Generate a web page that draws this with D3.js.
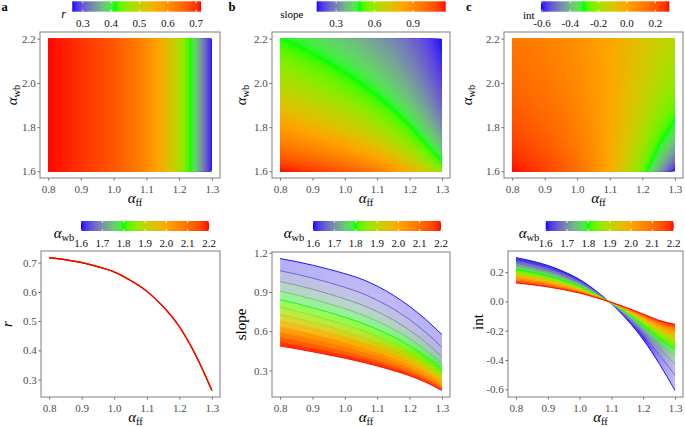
<!DOCTYPE html>
<html><head><meta charset="utf-8">
<script src="https://cdn.jsdelivr.net/npm/d3@7"></script>
<style>body{margin:0;background:#fff}svg{display:block}svg text{font-family:'Liberation Serif','DejaVu Serif',serif}</style>
</head><body>
<script>
// ---------------- data ----------------
const affValues = [0.80,0.85,0.90,0.95,1.00,1.05,1.10,1.15,1.20,1.25,1.30];
const awbValues = [1.60,1.65,1.70,1.75,1.80,1.85,1.90,1.95,2.00,2.05,2.10,2.15,2.20];
const rValues = [0.717,0.710,0.700,0.686,0.668,0.639,0.602,0.550,0.481,0.384,0.263];
// one row per awb value, one column per aff value
const slopeRows = [
[1.155,1.132,1.105,1.074,1.040,1.000,0.945,0.875,0.790,0.690,0.575],
[1.062,1.036,1.006,0.973,0.935,0.893,0.837,0.770,0.689,0.591,0.478],
[0.980,0.952,0.921,0.886,0.847,0.804,0.750,0.686,0.608,0.516,0.407],
[0.907,0.878,0.846,0.811,0.772,0.729,0.677,0.616,0.544,0.456,0.353],
[0.841,0.812,0.780,0.745,0.707,0.665,0.615,0.558,0.490,0.408,0.311],
[0.782,0.753,0.721,0.687,0.651,0.610,0.562,0.509,0.445,0.368,0.277],
[0.728,0.700,0.669,0.636,0.601,0.562,0.517,0.467,0.407,0.335,0.249],
[0.679,0.652,0.622,0.590,0.557,0.519,0.477,0.430,0.374,0.306,0.225],
[0.634,0.608,0.579,0.549,0.517,0.482,0.442,0.397,0.345,0.282,0.205],
[0.593,0.568,0.541,0.512,0.482,0.448,0.411,0.369,0.320,0.260,0.188],
[0.555,0.531,0.505,0.478,0.450,0.418,0.383,0.343,0.298,0.242,0.173],
[0.520,0.497,0.473,0.447,0.420,0.391,0.358,0.321,0.278,0.225,0.160],
[0.487,0.466,0.443,0.419,0.394,0.366,0.335,0.300,0.260,0.210,0.148]];
const intRows = [
[0.299,0.276,0.246,0.204,0.150,0.075,-0.016,-0.127,-0.261,-0.424,-0.607],
[0.275,0.253,0.224,0.185,0.135,0.067,-0.014,-0.112,-0.227,-0.363,-0.504],
[0.254,0.232,0.205,0.168,0.122,0.060,-0.013,-0.099,-0.201,-0.317,-0.429],
[0.235,0.214,0.189,0.154,0.111,0.055,-0.012,-0.089,-0.180,-0.280,-0.372],
[0.218,0.198,0.174,0.142,0.102,0.050,-0.010,-0.081,-0.162,-0.251,-0.328],
[0.203,0.184,0.161,0.131,0.094,0.046,-0.010,-0.074,-0.147,-0.226,-0.292],
[0.189,0.171,0.149,0.121,0.087,0.042,-0.009,-0.068,-0.134,-0.206,-0.263],
[0.176,0.159,0.139,0.112,0.080,0.039,-0.008,-0.062,-0.123,-0.188,-0.237],
[0.164,0.148,0.129,0.104,0.074,0.036,-0.008,-0.058,-0.114,-0.173,-0.216],
[0.154,0.139,0.121,0.097,0.069,0.034,-0.007,-0.054,-0.106,-0.160,-0.198],
[0.144,0.130,0.113,0.091,0.065,0.031,-0.007,-0.050,-0.098,-0.149,-0.183],
[0.135,0.121,0.105,0.085,0.060,0.029,-0.006,-0.047,-0.092,-0.138,-0.169],
[0.126,0.114,0.099,0.080,0.057,0.027,-0.006,-0.044,-0.086,-0.129,-0.156]];
const affTicks = [0.8,0.9,1.0,1.1,1.2,1.3];
const awbTicks = [1.6,1.8,2.0,2.2];
const rTicks = [0.3,0.4,0.5,0.6,0.7];
const slopeTicks = [0.3,0.6,0.9,1.2];
const slopeLegendTicks = [0.3,0.6,0.9];
const intTicks = [-0.6,-0.4,-0.2,0.0,0.2];
const awbLegendTicks = [1.6,1.7,1.8,1.9,2.0,2.1,2.2];

// ---------------- helpers ----------------
const FONT = "'Liberation Serif','DejaVu Serif',serif";
const W = 685, H = 427;
const svg = d3.select("body").append("svg").attr("width", W).attr("height", H);
const defs = svg.append("defs");
const fmt = d => d3.format(".1f")(d).replace("\u2212", "-");
const expand = ([a, b]) => { const d = (b - a) * 0.05; return [a - d, b + d]; };
const makeColor = ([a, b]) => d3.scaleLinear()
  .domain([a, a + (b - a) / 3, a + 2 * (b - a) / 3, b])
  .range(["#0000ff", "#00ff00", "#ffa500", "#ff0000"])
  .interpolate(d3.interpolateLab).clamp(true);

const affExt = d3.extent(affValues), awbExt = d3.extent(awbValues);
const rExt = d3.extent(rValues);
const slopeExt = d3.extent(slopeRows.flat());
const intExt = d3.extent(intRows.flat());
const colR = makeColor(rExt), colS = makeColor(slopeExt), colI = makeColor(intExt), colA = makeColor(awbExt);

function txt(sel) { return sel.style("font-family", FONT); }

function scales(box, xExt, yExt) {
  return {
    xs: d3.scaleLinear().domain(expand(xExt)).range([box.x0, box.x1]),
    ys: d3.scaleLinear().domain(expand(yExt)).range([box.y1, box.y0])
  };
}

function axes(box, xs, ys, xTicks, yTicks) {
  const gx = svg.append("g").attr("transform", `translate(0,${box.y1})`)
    .call(d3.axisBottom(xs).tickValues(xTicks).tickSize(2.5).tickPadding(4.3).tickFormat(fmt));
  const gy = svg.append("g").attr("transform", `translate(${box.x0},0)`)
    .call(d3.axisLeft(ys).tickValues(yTicks).tickSize(2.5).tickPadding(1.8).tickFormat(fmt));
  [gx, gy].forEach(g => {
    g.attr("font-family", null).attr("font-size", 11);
    g.select(".domain").remove();
    g.selectAll(".tick line").attr("stroke", "#666");
    txt(g.selectAll(".tick text").attr("fill", "#4d4d4d"));
  });
  svg.append("rect").attr("x", box.x0).attr("y", box.y0)
    .attr("width", box.x1 - box.x0).attr("height", box.y1 - box.y0)
    .attr("fill", "none").attr("stroke", "#7f7f7f").attr("stroke-width", 1);
}

function mathText(x, y, sub, rotate) {
  const t = txt(svg.append("text")).attr("font-size", 15)
    .attr("fill", "#000").attr("text-anchor", "middle");
  if (rotate) t.attr("transform", `translate(${x},${y}) rotate(-90)`);
  else t.attr("x", x).attr("y", y);
  t.append("tspan").attr("font-style", "italic").text("\u03b1");
  t.append("tspan").attr("font-size", 10.5).attr("dy", 3).text(sub);
}

function plainYTitle(x, y, s, italic) {
  txt(svg.append("text")).attr("transform", `translate(${x},${y}) rotate(-90)`)
    .attr("font-size", 15).attr("text-anchor", "middle")
    .attr("font-style", italic ? "italic" : "normal").text(s);
}

let uid = 0;
function colorbar(x, y, w, h, domain, ticks, color, labelBase) {
  const id = "grad" + (uid++);
  const grad = defs.append("linearGradient").attr("id", id)
    .attr("x1", "0%").attr("x2", "100%").attr("y1", "0%").attr("y2", "0%");
  d3.range(0, 61).forEach(i => {
    const t = i / 60;
    grad.append("stop").attr("offset", t).attr("stop-color", color(domain[0] + t * (domain[1] - domain[0])));
  });
  svg.append("rect").attr("x", x).attr("y", y).attr("width", w).attr("height", h).attr("fill", `url(#${id})`);
  const ls = d3.scaleLinear().domain(domain).range([x, x + w]);
  ticks.forEach(t => {
    const px = ls(t);
    [[y, y + h * 0.2], [y + h * 0.8, y + h]].forEach(([a, b]) =>
      svg.append("line").attr("x1", px).attr("x2", px).attr("y1", a).attr("y2", b)
        .attr("stroke", "#fff").attr("stroke-width", 0.8));
    txt(svg.append("text")).attr("x", px).attr("y", labelBase).attr("text-anchor", "middle")
      .attr("font-size", 11).attr("fill", "#111").text(fmt(t));
  });
}

function heatmap(xs, ys, grid, n, m, ax0, dax, ay0, day, color, ext) {
  const clipId = "clip" + (uid++);
  defs.append("clipPath").attr("id", clipId).append("rect")
    .attr("x", xs(affExt[0])).attr("y", ys(awbExt[1]))
    .attr("width", xs(affExt[1]) - xs(affExt[0])).attr("height", ys(awbExt[0]) - ys(awbExt[1]));
  const N = 160, step = (ext[1] - ext[0]) / N;
  const thr = d3.range(N).map(i => ext[0] + i * step - (i === 0 ? 1e-9 : 0));
  const cs = d3.contours().size([n, m]).thresholds(thr)(grid);
  const proj = d3.geoTransform({
    point: function (x, y) { this.stream.point(xs(ax0 + (x - 0.5) * dax), ys(ay0 + (y - 0.5) * day)); }
  });
  const path = d3.geoPath(proj);
  svg.append("g").attr("clip-path", `url(#${clipId})`).selectAll("path").data(cs).join("path")
    .attr("d", path).attr("fill", (d, i) => color(ext[0] + (i + 0.5) * step))
    .attr("stroke", (d, i) => color(ext[0] + (i + 0.5) * step)).attr("stroke-width", 0.3);
}

// ---------------- top row: heat maps ----------------
const boxA = {x0: 40, x1: 220, y0: 32, y1: 178};
const boxB = {x0: 272, x1: 450, y0: 32, y1: 178};
const boxC = {x0: 504, x1: 683, y0: 32, y1: 178};
[[boxA, 16.5], [boxB, 246], [boxC, 472]].forEach(([box, tx], k) => {
  const {xs, ys} = scales(box, affExt, awbExt);
  if (k === 0) heatmap(xs, ys, [...rValues, ...rValues], 11, 2, 0.8, 0.05, 1.6, 0.6, colR, rExt);
  if (k === 1) heatmap(xs, ys, slopeRows.flat(), 11, 13, 0.8, 0.05, 1.6, 0.05, colS, slopeExt);
  if (k === 2) heatmap(xs, ys, intRows.flat(), 11, 13, 0.8, 0.05, 1.6, 0.05, colI, intExt);
  axes(box, xs, ys, affTicks, awbTicks);
  mathText((box.x0 + box.x1) / 2 + 5, 203, "ff", false);
  mathText(tx, (box.y0 + box.y1) / 2 - 10, "wb", true);
});
colorbar(72.3, 1.3, 128.7, 10.4, rExt, rTicks, colR, 27);
colorbar(316.7, 1.3, 129, 10.4, slopeExt, slopeLegendTicks, colS, 27);
colorbar(541, 1.3, 128.3, 10.4, intExt, intTicks, colI, 27);
txt(svg.append("text")).attr("x", 66).attr("y", 18).attr("text-anchor", "end")
  .attr("font-size", 12).attr("font-style", "italic").text("r");
txt(svg.append("text")).attr("x", 303.5).attr("y", 18).attr("text-anchor", "end")
  .attr("font-size", 11).text("slope");
txt(svg.append("text")).attr("x", 534.5).attr("y", 18.5).attr("text-anchor", "end")
  .attr("font-size", 11).text("int");
[["a", 1.5], ["b", 228.5], ["c", 466]].forEach(([l, x]) =>
  txt(svg.append("text")).attr("x", x).attr("y", 10.5)
    .attr("font-size", 12.5).attr("font-weight", "bold").text(l));

// ---------------- bottom row: line families ----------------
const boxD = {x0: 41, x1: 220, y0: 251, y1: 397};
const boxE = {x0: 272, x1: 450, y0: 252, y1: 397};
const boxF = {x0: 508, x1: 683, y0: 251, y1: 397};

function family(box, rows, ext, ticks, bands) {
  const {xs, ys} = scales(box, affExt, ext);
  const line = d3.line().x((d, i) => xs(affValues[i])).y(d => ys(d)).curve(d3.curveMonotoneX);
  const g = svg.append("g");
  const gx1 = xs(affExt[0]), gx2 = xs(affExt[1]);
  if (bands) {
    for (let j = 0; j < rows.length - 1; j++) {
      const c = colA((awbValues[j] + awbValues[j + 1]) / 2);
      const id = "band" + (uid++);
      const gr = defs.append("linearGradient").attr("id", id).attr("gradientUnits", "userSpaceOnUse")
        .attr("x1", gx1).attr("x2", gx2).attr("y1", 0).attr("y2", 0);
      affValues.forEach((a, i) => {
        const sp = Math.abs(ys(rows[j][i]) - ys(rows[j + 1][i]));
        gr.append("stop").attr("offset", (xs(a) - gx1) / (gx2 - gx1))
          .attr("stop-color", c).attr("stop-opacity", Math.min(1, 5 / Math.max(sp, 0.01)));
      });
      const area = d3.area().x((d, i) => xs(affValues[i]))
        .y0((d, i) => ys(rows[j][i])).y1((d, i) => ys(rows[j + 1][i])).curve(d3.curveMonotoneX);
      g.append("path").attr("d", area(rows[j])).attr("fill", `url(#${id})`);
    }
  }
  rows.forEach((row, j) => g.append("path").attr("d", line(row)).attr("fill", "none")
    .attr("stroke", colA(awbValues[j]))
    .attr("stroke-width", bands ? 0.9 : (j === rows.length - 1 ? 1.5 : 0.8)));
  axes(box, xs, ys, affTicks, ticks);
  mathText((box.x0 + box.x1) / 2 + 5, 421.5, "ff", false);
}
family(boxD, awbValues.map(() => rValues), rExt, rTicks, false);
family(boxE, slopeRows, slopeExt, slopeTicks, true);
family(boxF, intRows, intExt, intTicks, true);
plainYTitle(11.5, (boxD.y0 + boxD.y1) / 2, "r", true);
plainYTitle(246, (boxE.y0 + boxE.y1) / 2, "slope", false);
plainYTitle(483, (boxF.y0 + boxF.y1) / 2 - 2, "int", false);

[[81, 64], [313, 294], [545.7, 529]].forEach(([bx, tx]) => {
  colorbar(bx, 221, 128, 10, awbExt, awbLegendTicks, colA, 247);
  mathText(tx, 238, "wb", false);
});
</script>
</body></html>
